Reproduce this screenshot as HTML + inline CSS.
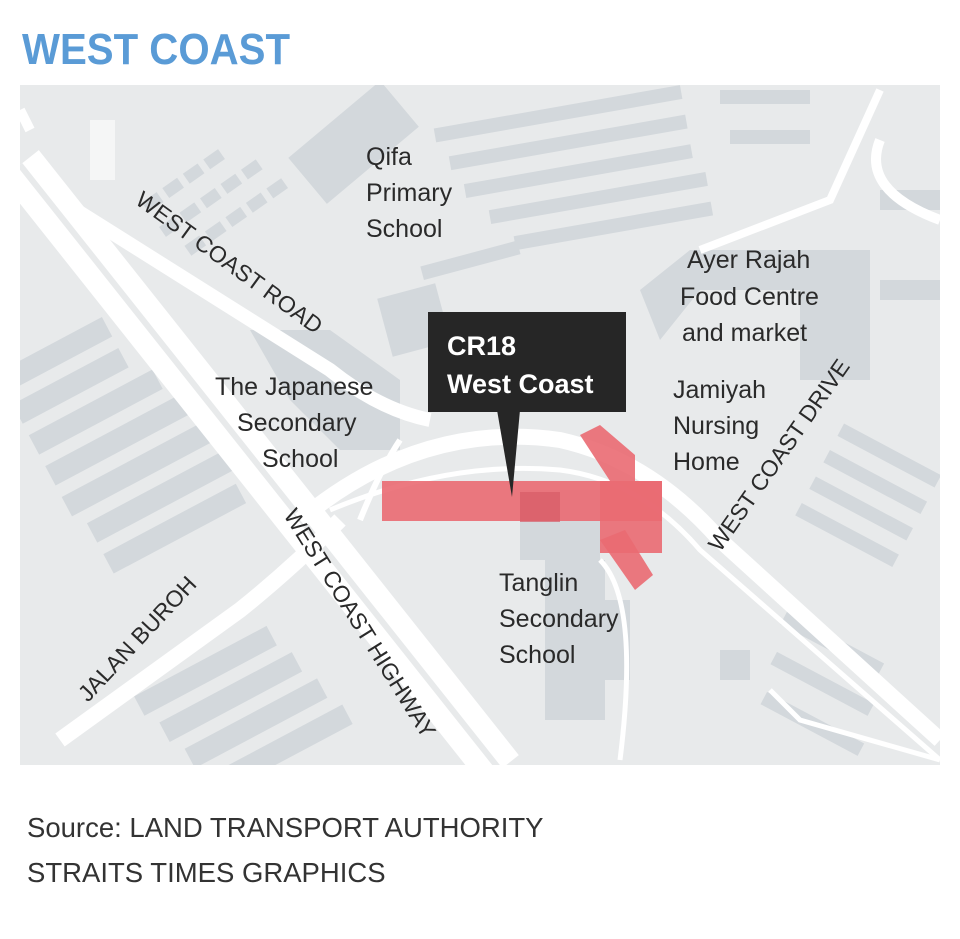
<!DOCTYPE html>
<html><head><meta charset="utf-8"><style>
body{margin:0;background:#fff;width:960px;height:934px;overflow:hidden;font-family:"Liberation Sans",sans-serif}
</style></head><body>
<svg width="960" height="934" viewBox="0 0 960 934" xmlns="http://www.w3.org/2000/svg" font-family="Liberation Sans, sans-serif">
<text x="22" y="64" font-size="44" font-weight="bold" fill="#5a9bd6" textLength="268" lengthAdjust="spacingAndGlyphs">WEST COAST</text>
<clipPath id="c"><rect x="20" y="85" width="920" height="680"/></clipPath>
<g clip-path="url(#c)">
<rect x="20" y="85" width="920" height="680" fill="#e8eaeb"/>
<g fill="#d3d8dc">
 <g transform="rotate(-28 100 420)">
  <rect x="30" y="330" width="120" height="22"/><rect x="30" y="365" width="120" height="22"/><rect x="30" y="400" width="140" height="22"/><rect x="30" y="435" width="150" height="22"/><rect x="30" y="470" width="160" height="22"/><rect x="40" y="505" width="160" height="22"/><rect x="40" y="540" width="150" height="22"/>
 </g>
 <g transform="rotate(-28 250 680)">
  <rect x="140" y="640" width="150" height="22"/><rect x="150" y="675" width="150" height="22"/><rect x="160" y="710" width="150" height="22"/><rect x="170" y="745" width="150" height="22"/>
 </g>
 <g transform="rotate(-35 250 200)">
  <rect x="160" y="140" width="18" height="12"/><rect x="185" y="140" width="18" height="12"/><rect x="210" y="140" width="18" height="12"/><rect x="235" y="140" width="18" height="12"/>
  <rect x="160" y="170" width="18" height="12"/><rect x="185" y="170" width="18" height="12"/><rect x="210" y="170" width="18" height="12"/><rect x="235" y="170" width="18" height="12"/><rect x="260" y="170" width="18" height="12"/>
  <rect x="170" y="200" width="18" height="12"/><rect x="195" y="200" width="18" height="12"/><rect x="220" y="200" width="18" height="12"/><rect x="245" y="200" width="18" height="12"/><rect x="270" y="200" width="18" height="12"/>
 </g>
 <rect x="90" y="120" width="25" height="60" fill="#f5f6f6"/>
 <g transform="rotate(-40 360 150)"><rect x="300" y="110" width="120" height="60"/></g>
 <g transform="rotate(-10 600 150)">
  <rect x="440" y="100" width="250" height="14"/><rect x="450" y="130" width="240" height="14"/><rect x="460" y="160" width="230" height="14"/><rect x="480" y="190" width="220" height="14"/><rect x="500" y="220" width="200" height="14"/>
 </g>
 <rect x="720" y="90" width="90" height="14"/><rect x="730" y="130" width="80" height="14"/>
 <g transform="rotate(-15 450 300)"><rect x="380" y="280" width="60" height="60"/><rect x="430" y="260" width="100" height="14"/></g>
 <path d="M640 290 L690 250 L870 250 L870 380 L800 380 L800 290 L700 290 L660 340 Z"/>
 <g transform="rotate(28 860 500)">
  <rect x="810" y="440" width="110" height="14"/><rect x="810" y="470" width="110" height="14"/><rect x="810" y="500" width="110" height="14"/><rect x="810" y="530" width="110" height="14"/>
 </g>
 <g transform="rotate(28 830 680)">
  <rect x="760" y="640" width="110" height="14"/><rect x="770" y="680" width="110" height="14"/><rect x="780" y="720" width="110" height="14"/>
 </g>
 <rect x="880" y="190" width="60" height="20"/><rect x="880" y="280" width="60" height="20"/>
 <rect x="720" y="650" width="30" height="30"/>
 <path d="M250 330 L330 330 L400 380 L400 450 L340 450 L290 400 Z"/>
 <rect x="520" y="490" width="80" height="70"/><rect x="545" y="560" width="60" height="160"/><rect x="600" y="600" width="30" height="80"/>
</g>
<g fill="none" stroke="#fff" stroke-linecap="butt">
 <path d="M20 165 L500 770" stroke-width="48"/>
 <path d="M20 165 L500 770" stroke-width="6" stroke="#e8eaeb"/>
 <path d="M30 130 L20 110" stroke-width="10"/>
 <path d="M60 740 L240 610 Q290 570 340 520" stroke-width="16"/>
 <path d="M60 200 L330 370 Q380 410 430 420" stroke-width="14"/>
 <path d="M300 520 Q420 420 560 440 Q650 460 720 540 L940 740" stroke-width="16"/>
 <path d="M330 510 Q450 460 560 470 Q640 480 700 550 L940 760" stroke-width="5"/>
 <path d="M360 520 Q380 470 400 440" stroke-width="6"/>
 <path d="M600 560 Q640 600 620 760" stroke-width="5"/>
 <path d="M700 250 L830 200 L880 90" stroke-width="8"/>
 <path d="M880 140 Q860 190 940 220" stroke-width="10"/>
 <path d="M770 690 L800 720 L940 760" stroke-width="5"/>
</g>
<g fill="#ea6a72" fill-opacity="0.9">
 <rect x="382" y="481" width="280" height="40"/>
 <path d="M580 435 L600 425 L635 455 L635 481 L610 481 Z"/>
 <rect x="600" y="481" width="62" height="72"/>
 <path d="M600 540 L625 530 L653 575 L635 590 Z"/>
</g>
<rect x="520" y="492" width="40" height="30" fill="#d75b66" fill-opacity="0.7"/>
</g>
<rect x="428" y="312" width="198" height="100" fill="#262626"/>
<path d="M497 410 L520 410 L512 497 Z" fill="#262626"/>
<text x="447" y="355" font-size="27" font-weight="bold" fill="#fff">CR18</text>
<text x="447" y="393" font-size="27" font-weight="bold" fill="#fff">West Coast</text>
<g font-size="25" fill="#2a2a2a">
<text x="366" y="165">Qifa</text><text x="366" y="201">Primary</text><text x="366" y="237">School</text>
<text x="687" y="268">Ayer Rajah</text><text x="680" y="305">Food Centre</text><text x="682" y="341">and market</text>
<text x="673" y="398">Jamiyah</text><text x="673" y="434">Nursing</text><text x="673" y="470">Home</text>
<text x="215" y="395">The Japanese</text><text x="237" y="431">Secondary</text><text x="262" y="467">School</text>
<text x="499" y="591">Tanglin</text><text x="499" y="627">Secondary</text><text x="499" y="663">School</text>
<text transform="translate(134,203) rotate(36)" font-size="23">WEST COAST ROAD</text>
<text transform="translate(283,515) rotate(58)" font-size="23">WEST COAST HIGHWAY</text>
<text transform="translate(88,703) rotate(-47)" font-size="23">JALAN BUROH</text>
<text transform="translate(720,553) rotate(-55)" font-size="23">WEST COAST DRIVE</text>
</g>
<text x="27" y="837" font-size="27.5" fill="#333">Source: LAND TRANSPORT AUTHORITY</text>
<text x="27" y="882" font-size="27.5" fill="#333">STRAITS TIMES GRAPHICS</text>
</svg>
</body></html>
